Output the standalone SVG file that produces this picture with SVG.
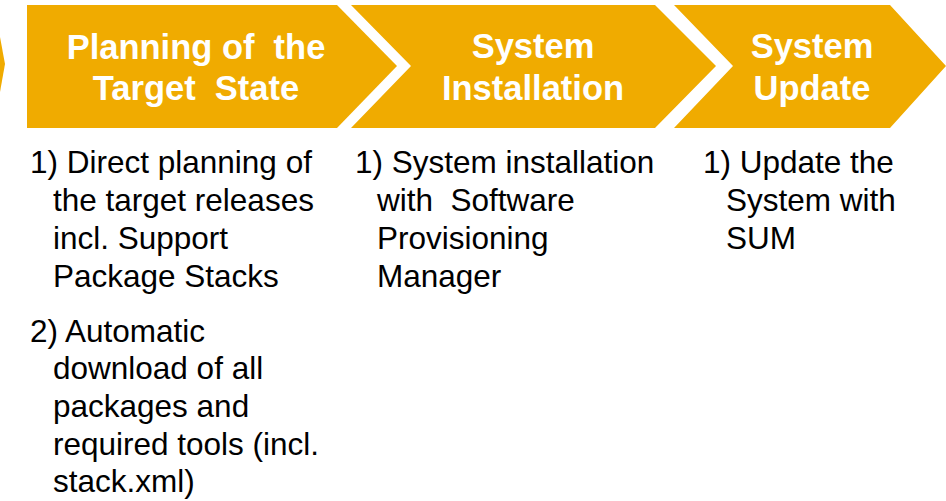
<svg xmlns="http://www.w3.org/2000/svg" width="946" height="501" viewBox="0 0 946 501">
<style>
.chev{fill:#F0AB00;}
.hd{font-family:"Liberation Sans",Arial,sans-serif;font-weight:bold;font-size:34.5px;fill:#FFFFFF;text-anchor:middle;white-space:pre;}
.bd{font-family:"Liberation Sans",Arial,sans-serif;font-size:31.5px;fill:#000000;white-space:pre;}
</style>
<rect width="946" height="501" fill="#FFFFFF"/>
<g id="prev-tip">
<polygon class="chev" points="0,37 5,64 0,92"/>
</g>
<g id="node-planning">
<polygon class="chev" points="27,5 337,5 397,66 337,128 27,128"/>
<text class="hd" xml:space="preserve"><tspan x="196" y="59">Planning of  the</tspan><tspan x="196" y="100">Target  State</tspan></text>
<text class="bd" xml:space="preserve"><tspan x="30" y="173">1) Direct planning of</tspan><tspan x="53" y="211">the target releases</tspan><tspan x="53" y="249">incl. Support</tspan><tspan x="53" y="287">Package Stacks</tspan><tspan x="30" y="342">2) Automatic</tspan><tspan x="53" y="379">download of all</tspan><tspan x="53" y="417">packages and</tspan><tspan x="53" y="455">required tools (incl.</tspan><tspan x="53" y="492">stack.xml)</tspan></text>
</g>
<g id="node-installation">
<polygon class="chev" points="351,5 655,5 716,66 655,128 351,128 411,66"/>
<text class="hd" xml:space="preserve"><tspan x="533" y="58">System</tspan><tspan x="533" y="100">Installation</tspan></text>
<text class="bd" xml:space="preserve"><tspan x="355" y="173">1) System installation</tspan><tspan x="377" y="211">with  Software</tspan><tspan x="377" y="249">Provisioning</tspan><tspan x="377" y="287">Manager</tspan></text>
</g>
<g id="node-update">
<polygon class="chev" points="674,5 890,5 946,66 890,128 674,128 733,66"/>
<text class="hd" xml:space="preserve"><tspan x="812" y="58">System</tspan><tspan x="812" y="100">Update</tspan></text>
<text class="bd" xml:space="preserve"><tspan x="703" y="173">1) Update the</tspan><tspan x="726" y="211">System with</tspan><tspan x="726" y="249">SUM</tspan></text>
</g>
<g id="connectors"></g>
</svg>
